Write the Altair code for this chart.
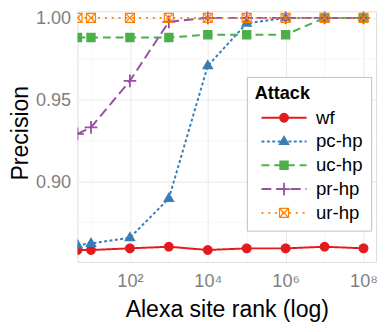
import math
import altair as alt
import pandas as pd

# ---------------- data ----------------
SERIES = ["wf", "pc-hp", "uc-hp", "pr-hp", "ur-hp"]
COLORS = ["#E41A1C", "#377EB8", "#4DAF4A", "#984EA3", "#FF7F00"]
DASHES = [[1, 0], [3, 2.5], [8, 5], [10, 5], [2, 5]]

RANK = [4.5, 10, 100, 1000, 10000, 100000, 1000000, 10000000, 100000000]
WF = [0.858, 0.858, 0.859, 0.860, 0.858, 0.859, 0.859, 0.860, 0.859]
PC_HP = [0.861, 0.862, 0.8655, 0.8895, 0.9707, 0.9967, 1.0, 1.0, 1.0]
UC_HP = [0.988, 0.988, 0.988, 0.988, 0.9897, 0.9897, 0.9897, 1.0, 1.0]
PR_HP = [0.929, 0.933, 0.9615, 0.9976, 1.0, 1.0, 1.0, 1.0, 1.0]
UR_HP = [1.0, 1.0, 1.0, 1.0, 1.0, 1.0, 1.0, 1.0, 1.0]

X_TICKS = [10, 100, 1000, 10000, 100000, 1000000, 10000000, 100000000]
Y_TICKS = [0.875, 0.9, 0.925, 0.95, 0.975, 1.0]

VALUES = [WF, PC_HP, UC_HP, PR_HP, UR_HP]
rows = []
for name, vals in zip(SERIES, VALUES):
    for r, v in zip(RANK, vals):
        rows.append({"rank": r, "precision": v, "series": name})
df = pd.DataFrame(rows)


# ---------------- marker paths (filled outlines) ----------------
def _num(v):
    s = f"{v:.3f}".rstrip("0").rstrip(".")
    return "0" if s in ("-0", "", "-") else s


def _poly(pts, hole=False):
    area = sum(x1 * y2 - x2 * y1 for (x1, y1), (x2, y2) in zip(pts, pts[1:] + pts[:1]))
    if (area < 0) != hole:
        pts = pts[::-1]
    return "M" + "L".join(f"{_num(x)},{_num(y)}" for x, y in pts) + "Z"


def _rect(x0, y0, x1, y1):
    return [(x0, y0), (x1, y0), (x1, y1), (x0, y1)]


def _circle(cx, cy, r, n=28):
    return [(cx + r * math.cos(2 * math.pi * k / n), cy + r * math.sin(2 * math.pi * k / n)) for k in range(n)]


def _bar(p, q, t):
    dx, dy = q[0] - p[0], q[1] - p[1]
    L = math.hypot(dx, dy)
    nx, ny = -dy / L * t, dx / L * t
    return [(p[0] + nx, p[1] + ny), (q[0] + nx, q[1] + ny), (q[0] - nx, q[1] - ny), (p[0] - nx, p[1] - ny)]


def marker_polys(kind, cx=0.0):
    if kind == "wf":
        return [(_circle(cx, 0, 5.0), False)]
    if kind == "pc-hp":
        return [([(cx, -6.6), (cx + 5.9, 3.5), (cx - 5.9, 3.5)], False)]
    if kind == "uc-hp":
        return [(_rect(cx - 4.8, -4.8, cx + 4.8, 4.8), False)]
    if kind == "pr-hp":
        return [(_rect(cx - 6.5, -0.9, cx + 6.5, 0.9), False),
                (_rect(cx - 0.9, -6.5, cx + 0.9, 6.5), False)]
    # ur-hp: hollow square with an X
    return [(_rect(cx - 5.2, -5.2, cx + 5.2, 5.2), False),
            (_rect(cx - 4.0, -4.0, cx + 4.0, 4.0), True),
            (_bar((cx - 4.5, -4.5), (cx + 4.5, 4.5), 0.6), False),
            (_bar((cx - 4.5, 4.5), (cx + 4.5, -4.5), 0.6), False)]


def dash_polys(x0, x1, pattern, t=1.0):
    on, off = pattern
    if off == 0:
        return [(_rect(x0, -t, x1, t), False)]
    out, a = [], x0
    while a < x1:
        b = min(a + on, x1)
        out.append((_rect(a, -t, b, t), False))
        a = b + off
    return out


def to_path(polys, px_per_unit):
    return "".join(_poly([(x / px_per_unit, y / px_per_unit) for x, y in pts], hole) for pts, hole in polys)


PLOT_SIZE = 400      # custom path unit = sqrt(400)/2 = 10 px
LEG_SIZE = 100       # custom path unit = sqrt(100)/2 = 5 px
MARKER_PATHS = [to_path(marker_polys(s), 10) for s in SERIES]
MX = 20.5
LEGEND_PATHS = [to_path(dash_polys(MX - 23, MX + 23, d) + marker_polys(s, MX), 5)
                for s, d in zip(SERIES, DASHES)]

# ---------------- encodings ----------------
FONT = "Liberation Sans"
minor_x = "round(log(datum.value)/LN10) % 2 == 1"
minor_y = "abs(datum.value*20 - round(datum.value*20)) > 0.001"

X = alt.X(
    "rank:Q",
    scale=alt.Scale(type="log", domain=[4.5, 2.1e8], nice=False, zero=False),
    axis=alt.Axis(
        values=X_TICKS,
        title="Alexa site rank (log)",
        labelExpr="datum.value == 100 ? '10²' : datum.value == 10000 ? '10⁴' : "
                  "datum.value == 1000000 ? '10⁶' : datum.value == 100000000 ? '10⁸' : ''",
        grid=True,
        gridColor={"condition": {"test": minor_x, "value": "#F2F2F2"}, "value": "#EBEBEB"},
        gridWidth={"condition": {"test": minor_x, "value": 0.7}, "value": 1.1},
        ticks=False, tickSize=0, domain=False,
        labelFontSize=18.5, labelColor="#7F7F7F", labelFont=FONT,
        labelBaseline="alphabetic", labelPadding=25, labelFlush=False, labelOverlap=False,
        titleFontSize=23.5, titleColor="black", titleFontWeight="normal", titleFont=FONT,
        titleBaseline="alphabetic", titleY=56,
    ),
)
Y = alt.Y(
    "precision:Q",
    scale=alt.Scale(domain=[0.8507, 1.004], nice=False, zero=False),
    axis=alt.Axis(
        values=Y_TICKS,
        title="Precision",
        labelExpr="abs(datum.value*20 - round(datum.value*20)) < 0.001 ? format(datum.value, '.2f') : ''",
        grid=True,
        gridColor={"condition": {"test": minor_y, "value": "#F2F2F2"}, "value": "#EBEBEB"},
        gridWidth={"condition": {"test": minor_y, "value": 0.7}, "value": 1.1},
        ticks=False, tickSize=0, domain=False,
        labelFontSize=18.5, labelColor="#7F7F7F", labelFont=FONT,
        labelPadding=7, labelFlush=False, labelOverlap=False,
        titleFontSize=23.5, titleColor="black", titleFontWeight="normal", titleFont=FONT,
        titleBaseline="alphabetic", titleAngle=270, titleX=-51, titleY=124,
    ),
)

lines = alt.Chart(df).mark_line(strokeWidth=2, clip=True).encode(
    x=X, y=Y,
    stroke=alt.Stroke("series:N", scale=alt.Scale(domain=SERIES, range=COLORS), legend=None),
    strokeDash=alt.StrokeDash("series:N", scale=alt.Scale(domain=SERIES, range=DASHES), legend=None),
)

points = alt.Chart(df).mark_point(filled=True, size=PLOT_SIZE, strokeWidth=0, opacity=1, clip=True).encode(
    x=X, y=Y,
    fill=alt.Fill("series:N", scale=alt.Scale(domain=SERIES, range=COLORS), legend=None),
    shape=alt.Shape("series:N", scale=alt.Scale(domain=SERIES, range=MARKER_PATHS), legend=None),
)

leg = alt.Legend(
    title="Attack", orient="none", legendX=173, legendY=67, direction="vertical",
    padding=8, fillColor="white", strokeColor="#BEBEBE",
    symbolSize=LEG_SIZE, symbolStrokeWidth=0, symbolOpacity=1,
    labelFontSize=19, labelColor="black", labelFont=FONT, labelOffset=43.7, labelLimit=300,
    titleFontSize=18.5, titleFontWeight="bold", titleColor="black", titleFont=FONT,
    titlePadding=5.7, rowPadding=4.3,
)

legend_layer = alt.Chart(df).mark_point(filled=True, opacity=0).encode(
    x=X, y=Y,
    color=alt.Color("series:N", scale=alt.Scale(domain=SERIES, range=COLORS), legend=leg),
    shape=alt.Shape("series:N", scale=alt.Scale(domain=SERIES, range=LEGEND_PATHS), legend=leg),
)

chart = (
    alt.layer(lines, points, legend_layer)
    .resolve_scale(shape="independent", color="independent")
    .resolve_legend(shape="independent", color="independent")
    .properties(
        width=305, height=256,
        autosize=alt.AutoSizeParams(type="none"),
        padding={"left": 71, "top": 0, "right": 2, "bottom": 60},
    )
    .configure_view(stroke=None)
    .configure(font=FONT)
)

chart.save("out.html", embed_options={"renderer": "svg", "actions": False})
